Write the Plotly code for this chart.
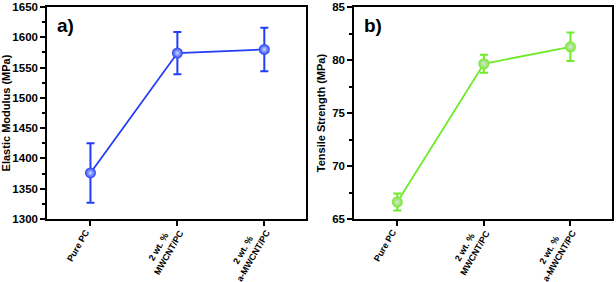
import plotly.graph_objects as go

categories = ["Pure PC", "2 wt. %<br>MWCNT/PC", "2 wt. %<br>a-MWCNT/PC"]
modulus = [1376, 1574, 1580]
modulus_err = [49, 35, 36]
strength = [66.6, 79.65, 81.25]
strength_err = [0.8, 0.85, 1.35]

blue = "rgb(35,60,250)"
green = "rgb(110,235,40)"
FONT = "Arial, Liberation Sans, sans-serif"

fig = go.Figure()
fig.add_trace(go.Scatter(
    x=categories, y=modulus, mode="lines+markers",
    line=dict(color=blue, width=1.8),
    marker=dict(size=11, color=blue, gradient=dict(type="radial", color="rgb(200,220,255)")),
    error_y=dict(type="data", array=modulus_err, color=blue, thickness=2, width=4),
    xaxis="x", yaxis="y", showlegend=False))
fig.add_trace(go.Scatter(
    x=categories, y=strength, mode="lines+markers",
    line=dict(color=green, width=1.8),
    marker=dict(size=11, color=green, gradient=dict(type="radial", color="rgb(225,225,225)")),
    error_y=dict(type="data", array=strength_err, color=green, thickness=2, width=4),
    xaxis="x2", yaxis="y2", showlegend=False))

xcommon = dict(type="category", range=[-0.5, 2.48], showline=True, linecolor="black",
               linewidth=1.5, mirror=True, ticks="outside", ticklen=5, tickwidth=1.5,
               tickcolor="black", showticklabels=False, showgrid=False, zeroline=False,
               automargin=False)
ycommon = dict(showline=True, linecolor="black", linewidth=1.5, mirror=True,
               ticks="outside", ticklen=5, tickwidth=1.5, tickcolor="black",
               showgrid=False, zeroline=False, automargin=False,
               tickfont=dict(family=FONT, size=11.5, color="black", weight="bold"))

annotations = [
    dict(text="a)", xref="x domain", yref="y domain", x=0.03, y=0.97,
         xanchor="left", yanchor="top", showarrow=False,
         font=dict(family=FONT, size=19, color="black", weight="bold")),
    dict(text="b)", xref="x2 domain", yref="y2 domain", x=0.03, y=0.97,
         xanchor="left", yanchor="top", showarrow=False,
         font=dict(family=FONT, size=19, color="black", weight="bold")),
]
# rotated category labels, anchored at each category tick
for xr, yr in (("x", "y domain"), ("x2", "y2 domain")):
    for cat in categories:
        two = "<br>" in cat
        annotations.append(dict(
            text=cat, xref=xr, yref=yr, x=cat, y=0, showarrow=False,
            textangle=-60, align="center", xanchor="right", yanchor="top",
            xshift=11 if two else 4, yshift=-1 if two else -5,
            font=dict(family=FONT, size=9, color="black", weight="bold")))

fig.update_layout(
    width=616, height=282, margin=dict(l=0, r=0, t=0, b=0),
    paper_bgcolor="white", plot_bgcolor="white",
    xaxis=dict(domain=[0.0763, 0.4968], anchor="y", **xcommon),
    yaxis=dict(domain=[0.2234, 0.975], anchor="x", range=[1300, 1650], dtick=50,
               minor=dict(ticks="outside", dtick=25, ticklen=3, tickcolor="black"),
               title=dict(text="Elastic Modulus (MPa)", standoff=4,
                          font=dict(family=FONT, size=11, color="black", weight="bold")),
               **ycommon),
    xaxis2=dict(domain=[0.5747, 0.9935], anchor="y2", **xcommon),
    yaxis2=dict(domain=[0.2234, 0.975], anchor="x2", range=[65, 85], dtick=5,
                minor=dict(ticks="outside", dtick=2.5, ticklen=3, tickcolor="black"),
                title=dict(text="Tensile Strength (MPa)", standoff=4,
                           font=dict(family=FONT, size=11, color="black", weight="bold")),
                **ycommon),
    annotations=annotations,
)

fig.write_html("out.html", config={"displayModeBar": False},
               post_script="document.body.style.margin='0';")
